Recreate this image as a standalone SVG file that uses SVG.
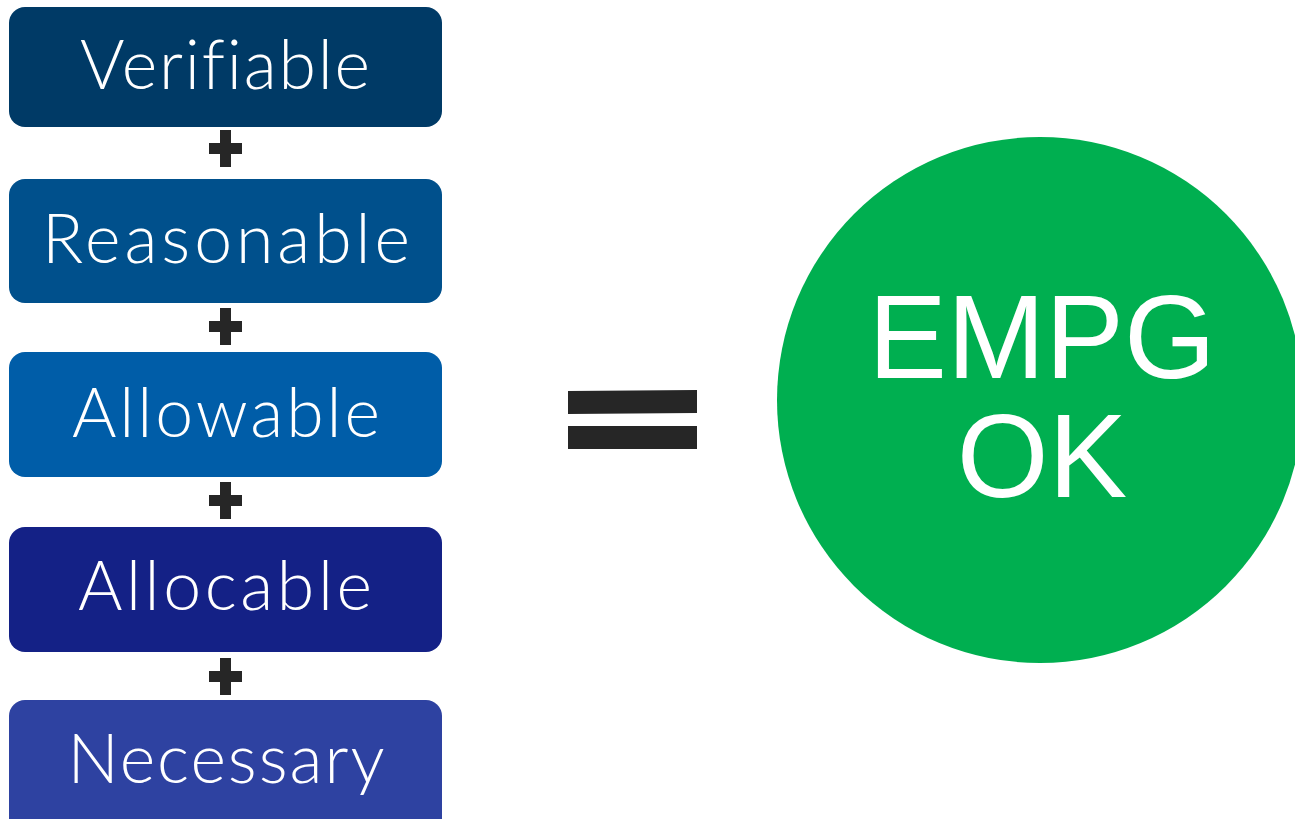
<svg xmlns="http://www.w3.org/2000/svg" width="1295" height="819" viewBox="0 0 1295 819">
<style>
.box-label{font-family:Lato,"Liberation Sans","Open Sans",sans-serif;font-weight:300;font-size:68px;fill:#ffffff;text-anchor:middle;font-variant-ligatures:none;font-feature-settings:"liga" 0}
.op{fill:#262626}
.big{font-family:"Liberation Sans",Arial,sans-serif;font-size:118px;fill:#ffffff;text-anchor:middle}
</style>
<rect width="1295" height="819" fill="#ffffff"/>
<g id="node-verifiable">
<rect x="9" y="7" width="433" height="120" rx="16" fill="#003A66"/>
<text class="box-label" x="225" y="89" textLength="290" lengthAdjust="spacing">Verifiable</text>
</g>
<g id="node-reasonable">
<rect x="9" y="179" width="433" height="124" rx="16" fill="#00508C"/>
<text class="box-label" x="226" y="263" textLength="368" lengthAdjust="spacing">Reasonable</text>
</g>
<g id="node-allowable">
<rect x="9" y="352" width="433" height="125" rx="16" fill="#005DA8"/>
<text class="box-label" x="226" y="437" textLength="308" lengthAdjust="spacing">Allowable</text>
</g>
<g id="node-allocable">
<rect x="9" y="527" width="433" height="125" rx="16" fill="#142186"/>
<text class="box-label" x="225" y="610" textLength="294" lengthAdjust="spacing">Allocable</text>
</g>
<g id="node-necessary">
<rect x="9" y="700" width="433" height="135" rx="16" fill="#2E42A1"/>
<text class="box-label" x="226" y="783" textLength="317" lengthAdjust="spacing">Necessary</text>
</g>
<g id="connectors">
<path class="op" d="M220 130h11v13h11v11h-11v13h-11v-13h-11v-11h11z"/>
<path class="op" d="M220 308h11v13h11v11h-11v13h-11v-13h-11v-11h11z"/>
<path class="op" d="M220 482h11v13h11v11h-11v13h-11v-13h-11v-11h11z"/>
<path class="op" d="M220 658h11v13h11v11h-11v13h-11v-13h-11v-11h11z"/>
<path class="op" d="M568 391L697 390L697 413L568 414Z"/>
<path class="op" d="M568 426L697 426L697 449L568 449Z"/>
</g>
<g id="node-result">
<circle cx="1040" cy="400" r="263" fill="#00AF50"/>
<text class="big" x="1042" y="378">EMPG</text>
<text class="big" x="1042" y="497">OK</text>
</g>
</svg>
